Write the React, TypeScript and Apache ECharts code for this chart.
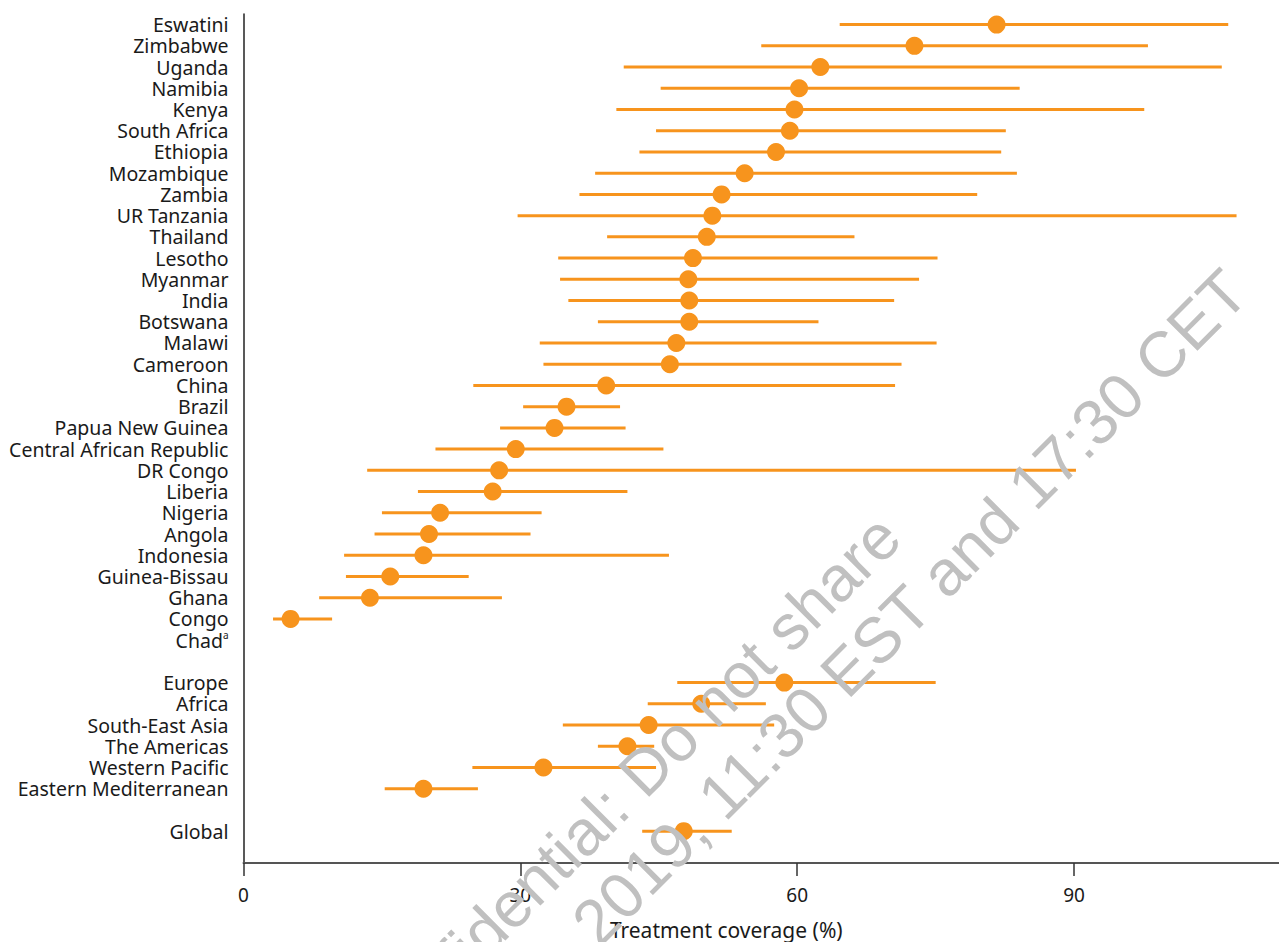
import React, { useEffect, useRef } from 'react';
import * as echarts from 'echarts';

const countries = [
  'Eswatini', 'Zimbabwe', 'Uganda', 'Namibia', 'Kenya', 'South Africa', 'Ethiopia', 'Mozambique',
  'Zambia', 'UR Tanzania', 'Thailand', 'Lesotho', 'Myanmar', 'India', 'Botswana', 'Malawi',
  'Cameroon', 'China', 'Brazil', 'Papua New Guinea', 'Central African Republic', 'DR Congo',
  'Liberia', 'Nigeria', 'Angola', 'Indonesia', 'Guinea-Bissau', 'Ghana', 'Congo', 'Chad',
];
const countryPoint = [
  81.6, 72.7, 62.5, 60.2, 59.7, 59.2, 57.7, 54.3,
  51.8, 50.8, 50.2, 48.7, 48.2, 48.3, 48.3, 46.9,
  46.2, 39.3, 35.0, 33.7, 29.5, 27.7,
  27.0, 21.3, 20.1, 19.5, 15.9, 13.7, 5.1, null,
];
const countryLow = [
  64.6, 56.1, 41.2, 45.2, 40.4, 44.7, 42.9, 38.1,
  36.4, 29.7, 39.4, 34.1, 34.3, 35.2, 38.4, 32.1,
  32.5, 24.9, 30.3, 27.8, 20.8, 13.4,
  18.9, 15.0, 14.2, 10.9, 11.1, 8.2, 3.2, null,
];
const countryHigh = [
  106.7, 98.0, 106.0, 84.1, 97.6, 82.6, 82.1, 83.8,
  79.5, 107.6, 66.2, 75.2, 73.2, 70.5, 62.3, 75.1,
  71.3, 70.6, 40.8, 41.4, 45.5, 90.2,
  41.6, 32.3, 31.1, 46.1, 24.4, 28.0, 9.6, null,
];

const regions = ['Europe', 'Africa', 'South-East Asia', 'The Americas', 'Western Pacific', 'Eastern Mediterranean'];
const regionPoint = [58.6, 49.6, 43.9, 41.6, 32.5, 19.5];
const regionLow = [47.0, 43.8, 34.6, 38.4, 24.8, 15.3];
const regionHigh = [75.0, 56.6, 57.5, 44.5, 44.7, 25.4];

const globalName = 'Global';
const globalPoint = 47.7;
const globalLow = 43.2;
const globalHigh = 52.9;

const xTicks = [0, 30, 60, 90];
const xAxisTitle = 'Treatment coverage (%)';
const watermarkLine1 = 'Confidential: Do not share';
const watermarkLine2 = '2019, 11:30 EST and 17:30 CET';

const ORANGE = '#F7941D';
const FONT = '"Noto Sans", sans-serif';
const TEXT = '#1a1a1a';

export default function App() {
  const ref = useRef<HTMLDivElement>(null);

  useEffect(() => {
    if (!ref.current) return;
    const chart = echarts.init(ref.current, undefined, { renderer: 'svg' });

    const categories = [...countries, ' ', ...regions, '  ', globalName, '   '];
    const points = [...countryPoint, null, ...regionPoint, null, globalPoint, null];
    const lows = [...countryLow, null, ...regionLow, null, globalLow, null];
    const highs = [...countryHigh, null, ...regionHigh, null, globalHigh, null];

    const rangeData: any[] = [];
    const pointData: any[] = [];
    categories.forEach((_, i) => {
      if (lows[i] != null && highs[i] != null) rangeData.push([lows[i], highs[i], i]);
      if (points[i] != null) pointData.push([points[i], i]);
    });

    chart.setOption({
      animation: false,
      backgroundColor: '#ffffff',
      grid: {
        left: 243.5,
        right: 0,
        top: 14,
        bottom: 79,
        containLabel: false,
        outerBoundsMode: 'none',
      },
      xAxis: {
        type: 'value',
        min: 0,
        max: 112.2,
        interval: 30,
        splitLine: { show: false },
        axisLine: { show: true, lineStyle: { color: '#555555', width: 2 } },
        axisTick: { show: true, customValues: xTicks, length: 13, lineStyle: { color: '#333333', width: 1.5 } },
        axisLabel: { customValues: xTicks, fontSize: 19, color: TEXT, fontFamily: FONT, margin: 22 },
        name: xAxisTitle,
        nameLocation: 'middle',
        nameGap: 56,
        nameTextStyle: { fontSize: 21, color: TEXT, fontFamily: FONT, padding: [0, 70, 0, 0] },
      },
      yAxis: {
        type: 'category',
        inverse: true,
        data: categories,
        axisLine: { show: true, lineStyle: { color: '#222222', width: 1.5 } },
        axisTick: { show: false },
        splitLine: { show: false },
        axisLabel: {
          interval: 0,
          fontSize: 19.5,
          lineHeight: 20,
          color: TEXT,
          fontFamily: FONT,
          margin: 15,
          formatter: (v: string) => (v === 'Chad' ? '{b|Chad}{s|a}' : v),
          rich: {
            b: { fontSize: 19.5, lineHeight: 20, color: TEXT, fontFamily: FONT },
            s: { fontSize: 10, lineHeight: 20, color: TEXT, fontFamily: FONT, verticalAlign: 'top' },
          },
        },
      },
      series: [
        {
          type: 'custom',
          data: rangeData,
          encode: { x: [0, 1], y: 2 },
          renderItem: (params: any, api: any) => {
            const y = api.value(2);
            const p1 = api.coord([api.value(0), y]);
            const p2 = api.coord([api.value(1), y]);
            return {
              type: 'line',
              shape: { x1: p1[0], y1: p1[1], x2: p2[0], y2: p2[1] },
              style: { stroke: ORANGE, lineWidth: 3 },
            };
          },
          z: 2,
        },
        {
          type: 'scatter',
          data: pointData,
          symbol: 'circle',
          symbolSize: 18,
          itemStyle: { color: ORANGE, opacity: 1 },
          z: 3,
        },
      ],
      graphic: [
        {
          type: 'text',
          x: 889,
          y: 526,
          rotation: Math.PI / 4,
          z: 100,
          style: {
            text: watermarkLine1,
            fontSize: 64,
            fontFamily: '"Liberation Sans", Arial, sans-serif',
            fill: '#c0c0c0',
            align: 'right',
            verticalAlign: 'middle',
          },
        },
        {
          type: 'text',
          x: 1236,
          y: 281,
          rotation: Math.PI / 4,
          z: 100,
          style: {
            text: watermarkLine2,
            fontSize: 64,
            fontFamily: '"Liberation Sans", Arial, sans-serif',
            fill: '#c0c0c0',
            align: 'right',
            verticalAlign: 'middle',
          },
        },
      ],
    });

    return () => chart.dispose();
  }, []);

  return <div ref={ref} style={{ position: 'absolute', left: 0, top: 0, width: 1279, height: 942 }} />;
}
